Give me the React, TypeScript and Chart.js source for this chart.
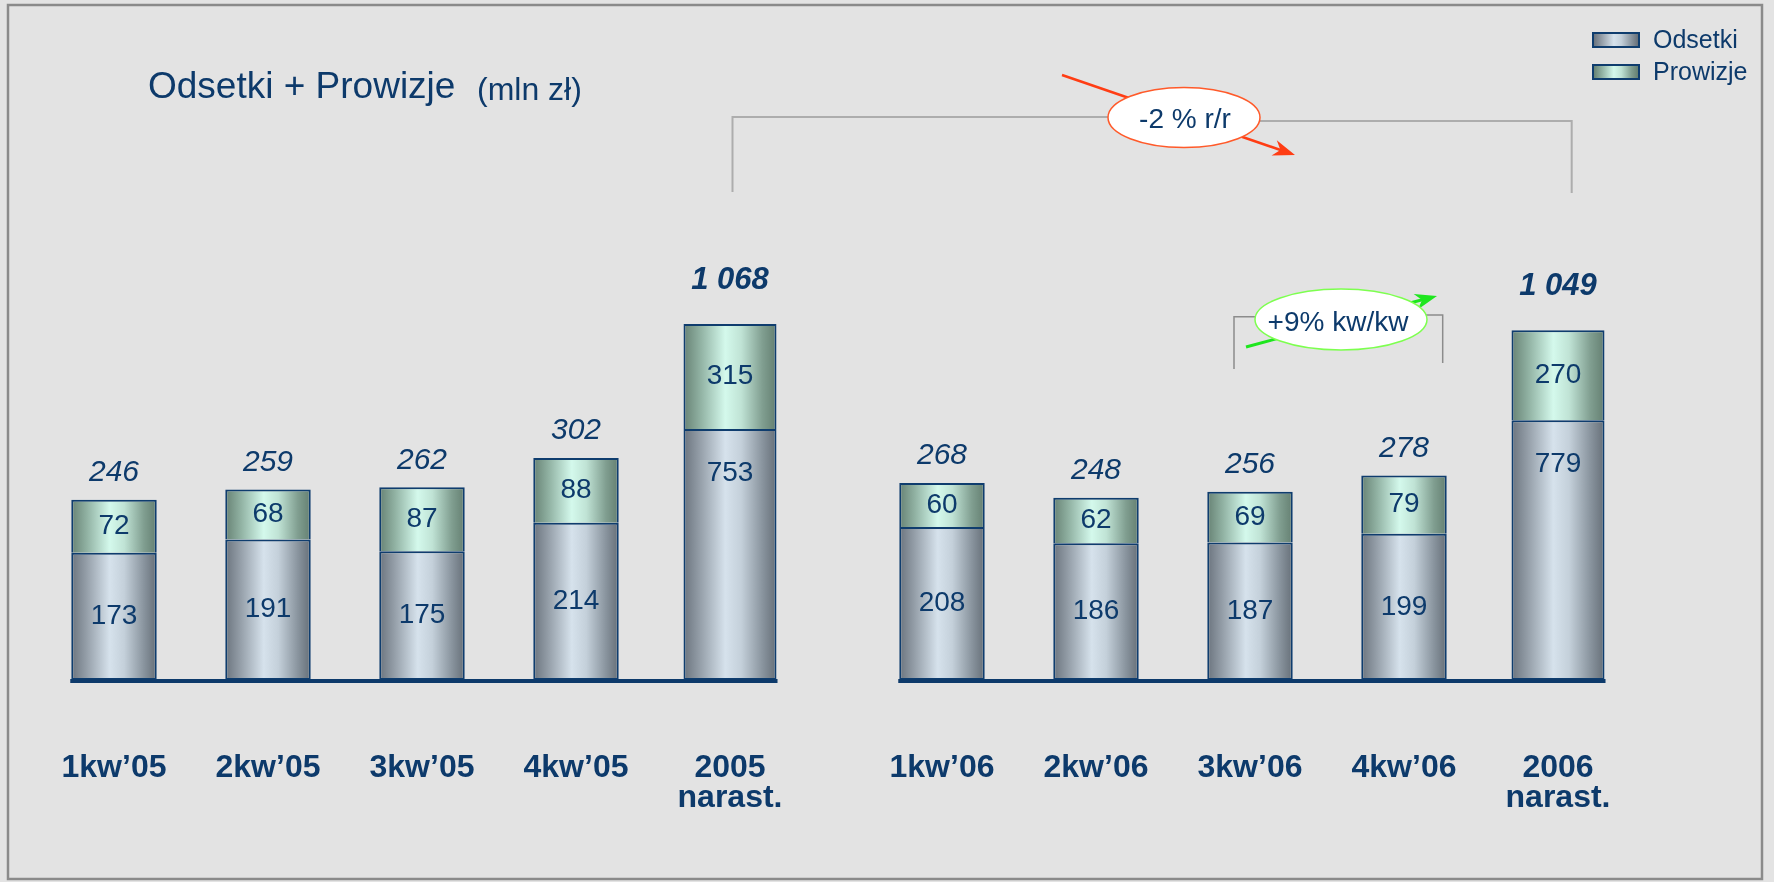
import React, { useEffect, useRef } from 'react';
import { Chart, registerables } from 'chart.js';

Chart.register(...registerables);

// ---------- data ----------
const labels2005: (string | string[])[] = ['1kw’05', '2kw’05', '3kw’05', '4kw’05', ['2005', 'narast.']];
const labels2006: (string | string[])[] = ['1kw’06', '2kw’06', '3kw’06', '4kw’06', ['2006', 'narast.']];

const odsetkiQ2005 = [173, 191, 175, 214, null];
const prowizjeQ2005 = [72, 68, 87, 88, null];
const odsetkiNar2005 = [null, null, null, null, 753];
const prowizjeNar2005 = [null, null, null, null, 315];
const totals2005 = [246, 259, 262, 302, 1068];

const odsetkiQ2006 = [208, 186, 187, 199, null];
const prowizjeQ2006 = [60, 62, 69, 79, null];
const odsetkiNar2006 = [null, null, null, null, 779];
const prowizjeNar2006 = [null, null, null, null, 270];
const totals2006 = [268, 248, 256, 278, 1049];

const seriesNames = ['Odsetki', 'Prowizje'];

// ---------- styles ----------
const FONT = '"Liberation Sans", Arial, Helvetica, sans-serif';
const NAVY = '#0d3a6b';
const BORDER = '#0f3d6e';
const ODS_STOPS: [number, string][] = [
  [0, '#6b747e'], [0.18, '#959fa9'], [0.45, '#d6e2ec'], [0.62, '#c4d0da'], [0.85, '#89949e'], [1, '#666f78'],
];
const PRO_STOPS: [number, string][] = [
  [0, '#678274'], [0.18, '#90b1a2'], [0.45, '#d4f9ec'], [0.62, '#c0e3d5'], [0.85, '#809e90'], [1, '#647f71'],
];
const cssGrad = (stops: [number, string][]) =>
  `linear-gradient(to right, ${stops.map(([o, c]) => `${c} ${o * 100}%`).join(', ')})`;

function gradFill(stops: [number, string][]) {
  return (c: any) => {
    const chart = c.chart;
    const xs = chart.scales && chart.scales.x;
    if (!xs || !chart.chartArea || c.dataIndex == null) return stops[2][1];
    const n = chart.data.labels.length;
    const bp = c.dataset.barPercentage ?? 0.9;
    const w = (xs.width / n) * bp;
    const cx = xs.getPixelForValue(c.dataIndex);
    if (!isFinite(cx)) return stops[2][1];
    const g = chart.ctx.createLinearGradient(cx - w / 2, 0, cx + w / 2, 0);
    stops.forEach(([o, col]) => g.addColorStop(o, col));
    return g;
  };
}

const fmt = (n: number) =>
  n >= 1000 ? `${Math.floor(n / 1000)} ${String(n % 1000).padStart(3, '0')}` : String(n);

const labelPlugin = {
  id: 'barLabels',
  afterDatasetsDraw(chart: any, _args: any, opts: any) {
    const ctx = chart.ctx;
    const y0 = chart.scales.y.getPixelForValue(0);
    let minX = Infinity;
    let maxX = -Infinity;
    chart.data.datasets.forEach((ds: any, di: number) => {
      chart.getDatasetMeta(di).data.forEach((el: any, i: number) => {
        if (ds.data[i] == null) return;
        const p = el.getProps(['x', 'width'], true);
        minX = Math.min(minX, p.x - p.width / 2);
        maxX = Math.max(maxX, p.x + p.width / 2);
      });
    });
    ctx.save();
    ctx.strokeStyle = NAVY;
    ctx.lineWidth = 4;
    ctx.beginPath();
    ctx.moveTo(minX - 1, y0 + 1);
    ctx.lineTo(maxX + 1, y0 + 1);
    ctx.stroke();

    ctx.fillStyle = NAVY;
    ctx.textAlign = 'center';
    ctx.textBaseline = 'middle';
    chart.data.datasets.forEach((ds: any, di: number) => {
      chart.getDatasetMeta(di).data.forEach((el: any, i: number) => {
        const v = ds.data[i];
        if (v == null) return;
        const p = el.getProps(['x', 'y', 'base'], true);
        ctx.font = `28px ${FONT}`;
        let ly = (p.y + p.base) / 2;
        if (ds.role === 'odsetki' && ds.narast) ly = p.y + 44;
        ctx.fillText(String(v), p.x, ly);
        if (ds.role === 'prowizje') {
          const t = opts.totals[i];
          ctx.font = ds.narast ? `italic bold 31px ${FONT}` : `italic 30px ${FONT}`;
          ctx.fillText(fmt(t), p.x, p.y - (ds.narast ? 44 : 27));
        }
      });
    });
    ctx.restore();
  },
};

function makeChart(
  canvas: HTMLCanvasElement,
  labels: (string | string[])[],
  odsQ: (number | null)[],
  proQ: (number | null)[],
  odsN: (number | null)[],
  proN: (number | null)[],
  totals: number[],
) {
  const common = { categoryPercentage: 1, borderColor: BORDER, borderWidth: 2 };
  return new Chart(canvas, {
    type: 'bar',
    data: {
      labels,
      datasets: [
        { ...common, label: seriesNames[0], data: odsQ, yAxisID: 'y', barPercentage: 0.555, backgroundColor: gradFill(ODS_STOPS), borderSkipped: false, role: 'odsetki' } as any,
        { ...common, label: seriesNames[1], data: proQ, yAxisID: 'y', barPercentage: 0.555, backgroundColor: gradFill(PRO_STOPS), borderSkipped: 'bottom', role: 'prowizje' } as any,
        { ...common, label: seriesNames[0], data: odsN, yAxisID: 'y2', barPercentage: 0.604, backgroundColor: gradFill(ODS_STOPS), borderSkipped: false, role: 'odsetki', narast: true } as any,
        { ...common, label: seriesNames[1], data: proN, yAxisID: 'y2', barPercentage: 0.604, backgroundColor: gradFill(PRO_STOPS), borderSkipped: 'bottom', role: 'prowizje', narast: true } as any,
      ],
    },
    options: {
      responsive: false,
      animation: false,
      events: [],
      layout: { padding: { top: 180, left: 0, right: 0, bottom: 0 } },
      plugins: {
        legend: { display: false },
        tooltip: { enabled: false },
        barLabels: { totals },
      } as any,
      scales: {
        x: {
          stacked: true,
          grid: { display: false, drawTicks: false },
          border: { display: false },
          ticks: {
            color: NAVY,
            font: { family: FONT, size: 32, weight: 'bold', lineHeight: 0.94 },
            padding: 73,
            maxRotation: 0,
            autoSkip: false,
          },
          afterFit: (s: any) => {
            s.height = 202;
            s.paddingLeft = 0;
            s.paddingRight = 0;
          },
        },
        y: { stacked: true, display: false, min: 0, max: 680 },
        y2: { stacked: true, display: false, min: 0, max: 1500 },
      },
    },
    plugins: [labelPlugin],
  });
}

function arrowHead(x1: number, y1: number, x2: number, y2: number, len: number, half: number) {
  const dx = x2 - x1;
  const dy = y2 - y1;
  const L = Math.hypot(dx, dy);
  const ux = dx / L;
  const uy = dy / L;
  const bx = x2 - ux * len;
  const by = y2 - uy * len;
  const nx = -uy;
  const ny = ux;
  const mx = x2 - ux * len * 0.7;
  const my = y2 - uy * len * 0.7;
  return `${x2},${y2} ${bx + nx * half},${by + ny * half} ${mx},${my} ${bx - nx * half},${by - ny * half}`;
}

export default function App() {
  const refA = useRef<HTMLCanvasElement>(null);
  const refB = useRef<HTMLCanvasElement>(null);

  useEffect(() => {
    document.body.style.margin = '0';
    const a = makeChart(refA.current!, labels2005, odsetkiQ2005, prowizjeQ2005, odsetkiNar2005, prowizjeNar2005, totals2005);
    const b = makeChart(refB.current!, labels2006, odsetkiQ2006, prowizjeQ2006, odsetkiNar2006, prowizjeNar2006, totals2006);
    return () => {
      a.destroy();
      b.destroy();
    };
  }, []);

  const swatch = (top: number, stops: [number, string][]) => (
    <div
      style={{
        position: 'absolute',
        left: 1592,
        top,
        width: 48,
        height: 16,
        boxSizing: 'border-box',
        border: `2px solid ${BORDER}`,
        background: cssGrad(stops),
      }}
    />
  );

  return (
    <div style={{ position: 'relative', width: 1774, height: 882, background: '#e3e3e3', overflow: 'hidden', fontFamily: FONT }}>
      <div style={{ position: 'absolute', left: 37, top: 0, width: 770, height: 882 }}>
        <canvas ref={refA} width={770} height={882} style={{ width: 770, height: 882, display: 'block' }} />
      </div>
      <div style={{ position: 'absolute', left: 865, top: 0, width: 770, height: 882 }}>
        <canvas ref={refB} width={770} height={882} style={{ width: 770, height: 882, display: 'block' }} />
      </div>

      {swatch(32, ODS_STOPS)}
      {swatch(64, PRO_STOPS)}

      <svg width={1774} height={882} style={{ position: 'absolute', left: 0, top: 0, pointerEvents: 'none' }}>
        <rect x={8} y={5} width={1754} height={874} fill="none" stroke="#8a8a8a" strokeWidth={2.5} />

        <text x={148} y={98} fontSize={37} fill={NAVY} fontFamily={FONT}>Odsetki + Prowizje</text>
        <text x={477} y={100} fontSize={32} fill={NAVY} fontFamily={FONT}>(mln zł)</text>

        <text x={1653} y={48} fontSize={25} fill={NAVY} fontFamily={FONT}>{seriesNames[0]}</text>
        <text x={1653} y={80} fontSize={25} fill={NAVY} fontFamily={FONT}>{seriesNames[1]}</text>

        {/* -2 % r/r bracket */}
        <polyline points="732.5,192 732.5,117 1184,117" fill="none" stroke="#adadad" strokeWidth={2} />
        <polyline points="1184,121 1571.7,121 1571.7,193" fill="none" stroke="#adadad" strokeWidth={2} />
        <line x1={1062} y1={75} x2={1282} y2={150.5} stroke="#ff3d14" strokeWidth={2.5} />
        <polygon points={arrowHead(1062, 75, 1295, 155, 22, 8)} fill="#ff3d14" />
        <ellipse cx={1184} cy={117.5} rx={76} ry={30} fill="#ffffff" stroke="#ff5a2a" strokeWidth={1.5} />
        <text x={1185} y={128} fontSize={28} fill={NAVY} fontFamily={FONT} textAnchor="middle">-2 % r/r</text>

        {/* +9% kw/kw bracket */}
        <polyline points="1234,369 1234,316.7 1260,316.7" fill="none" stroke="#8c8c8c" strokeWidth={1.5} />
        <polyline points="1422,315 1442.7,315 1442.7,363" fill="none" stroke="#8c8c8c" strokeWidth={1.5} />
        <line x1={1246} y1={347} x2={1425} y2={299} stroke="#1ee61e" strokeWidth={3} />
        <polygon points={arrowHead(1246, 347, 1437, 296, 22, 8)} fill="#1ee61e" />
        <ellipse cx={1341} cy={319.5} rx={86} ry={30.5} fill="#ffffff" stroke="#7dff4f" strokeWidth={1.5} />
        <text x={1338} y={331} fontSize={28} fill={NAVY} fontFamily={FONT} textAnchor="middle">+9% kw/kw</text>
      </svg>
    </div>
  );
}
